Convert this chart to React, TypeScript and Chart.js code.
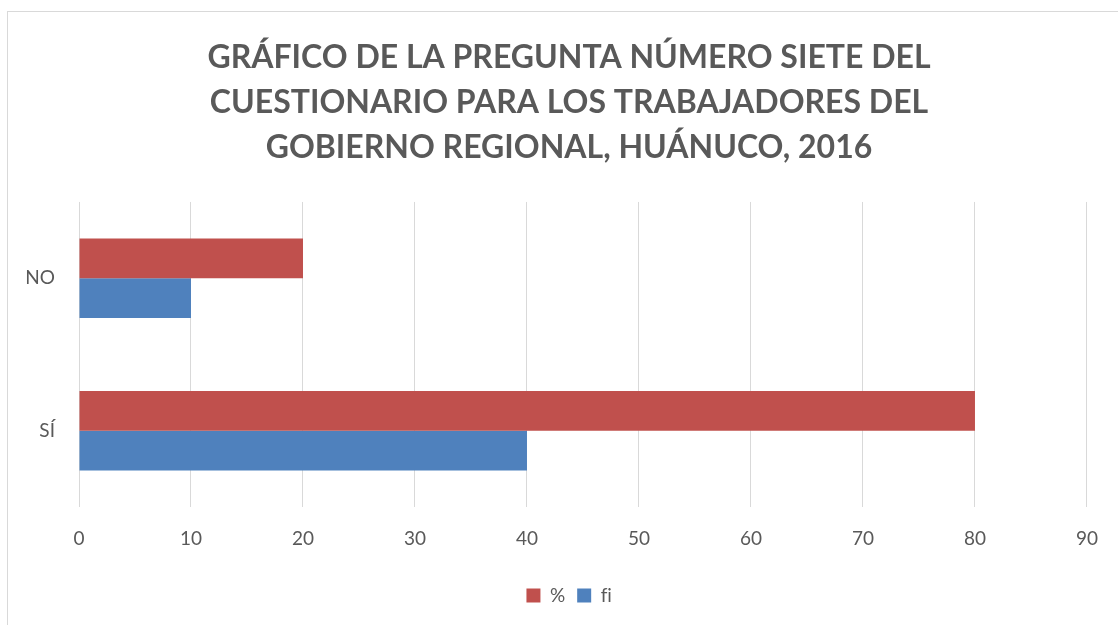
import React, { useEffect, useRef } from "react";
import { Chart, registerables } from "chart.js";

Chart.register(...registerables);

const categories = ["NO", "SÍ"];
const seriesNames = ["%", "fi"];
const percentValues = [20, 80];
const fiValues = [10, 40];
const titleLines = [
  "GRÁFICO DE LA PREGUNTA NÚMERO SIETE DEL",
  "CUESTIONARIO PARA LOS TRABAJADORES DEL",
  "GOBIERNO REGIONAL, HUÁNUCO, 2016",
];
const xMin = 0;
const xMax = 90;
const xStep = 10;

const W = 1118;
const H = 625;
const TEXT = "#595959";
const GRID = "#D9D9D9";
const RED = "#C0504D";
const BLUE = "#4F81BD";
const FONT = "Lato, 'Open Sans', sans-serif";

const framePlugin = {
  id: "frame",
  afterLayout(chart: any) {
    // let the category labels (drawn left of the narrow axis box) be visible
    const y = chart.scales.y;
    if (y) y.left = 0;
  },
  beforeDraw(chart: any) {
    const ctx = chart.ctx;
    ctx.textRendering = "optimizeSpeed";
    ctx.save();
    ctx.fillStyle = "#FFFFFF";
    ctx.fillRect(0, 0, chart.width, chart.height);
    ctx.strokeStyle = GRID;
    ctx.lineWidth = 1;
    ctx.strokeRect(7.5, 11.5, 3000, 3000);
    ctx.restore();
  },
};

export default function App() {
  const ref = useRef<HTMLCanvasElement | null>(null);

  useEffect(() => {
    if (!ref.current) return;
    const chart = new Chart(ref.current, {
      type: "bar",
      data: {
        labels: categories,
        datasets: [
          {
            label: seriesNames[0],
            data: percentValues,
            backgroundColor: RED,
            borderWidth: 0,
            barPercentage: 1,
            categoryPercentage: 0.52,
          },
          {
            label: seriesNames[1],
            data: fiValues,
            backgroundColor: BLUE,
            borderWidth: 0,
            barPercentage: 1,
            categoryPercentage: 0.52,
          },
        ],
      },
      options: {
        indexAxis: "y",
        responsive: false,
        animation: false,
        devicePixelRatio: 1,
        layout: { padding: { left: 50, right: 30, top: 0, bottom: 10 } },
        plugins: {
          title: {
            display: true,
            text: titleLines,
            color: TEXT,
            font: { family: FONT, size: 32, weight: "bold", lineHeight: 1.406 },
            padding: { top: 35, bottom: 32 },
          },
          legend: {
            display: true,
            position: "bottom",
            labels: {
              color: TEXT,
              font: { family: FONT, size: 19 },
              boxWidth: 14,
              boxHeight: 14,
              padding: 12,
            },
          },
          tooltip: { enabled: false },
        },
        scales: {
          x: {
            type: "linear",
            min: xMin,
            max: xMax,
            ticks: {
              stepSize: xStep,
              color: TEXT,
              font: { family: FONT, size: 19 },
              padding: 20,
            },
            grid: { color: GRID, lineWidth: 1, drawTicks: false },
            border: { display: false },
            afterFit(scale: any) {
              scale.height = 67;
            },
          },
          y: {
            type: "category",
            ticks: {
              color: TEXT,
              font: { family: FONT, size: 19 },
              padding: 24,
            },
            grid: { display: false, drawTicks: false },
            border: { display: false },
            afterFit(scale: any) {
              scale.width = 29;
            },
          },
        },
      },
      plugins: [framePlugin],
    });
    return () => chart.destroy();
  }, []);

  return (
    <div style={{ position: "fixed", left: 0, top: 0, width: W, height: H, background: "#fff" }}>
      <canvas ref={ref} width={W} height={H} style={{ width: W, height: H, display: "block" }} />
    </div>
  );
}
